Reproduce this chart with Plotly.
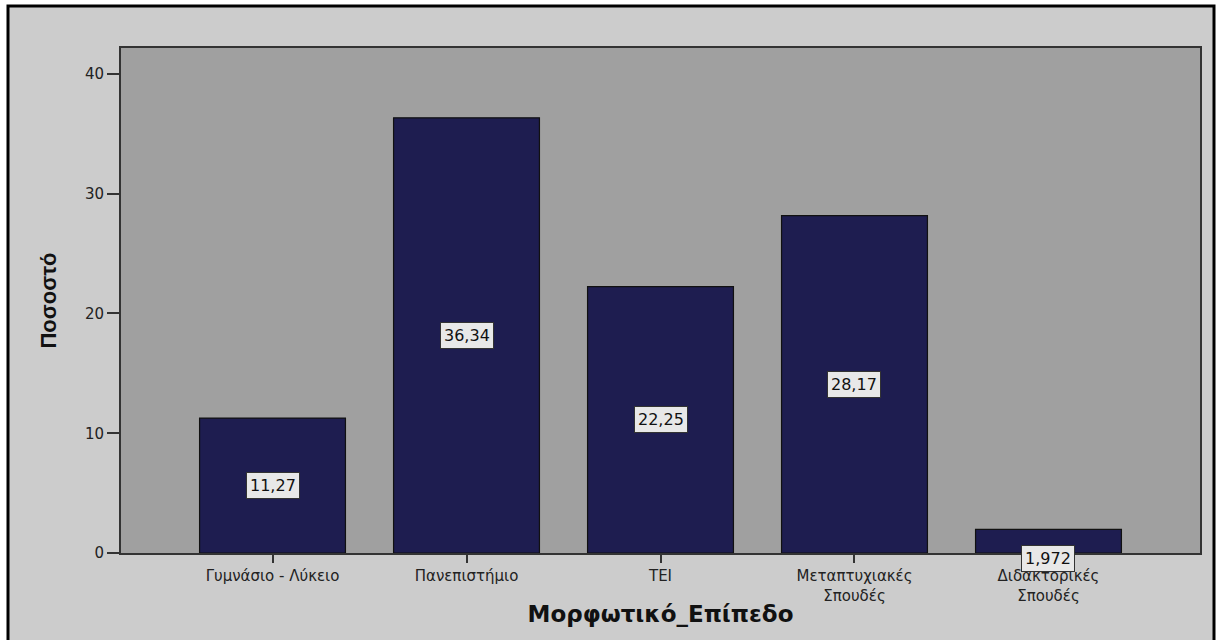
import plotly.graph_objects as go

categories = ["Γυμνάσιο - Λύκειο", "Πανεπιστήμιο", "ΤΕΙ", "Μεταπτυχιακές<br>Σπουδές", "Διδακτορικές<br>Σπουδές"]
values = [11.27, 36.34, 22.25, 28.17, 1.972]
value_labels = ["11,27", "36,34", "22,25", "28,17", "1,972"]
y_ticks = [0, 10, 20, 30, 40]

W, H = 1216, 640
ml, mr, mt, mb = 121, 16, 48, 87

fig = go.Figure()
fig.add_trace(go.Bar(
    x=list(range(len(categories))), y=values,
    width=0.752,
    marker=dict(color="#1e1d50", line=dict(color="#111111", width=1.2)),
    hoverinfo="skip",
))

for i, (v, lab) in enumerate(zip(values, value_labels)):
    fig.add_annotation(
        x=i, y=v / 2, xref="x", yref="y", text=lab, showarrow=False,
        font=dict(family="DejaVu Sans", size=16, color="#111111"),
        bgcolor="#e8e8e8", bordercolor="#333333", borderwidth=1, borderpad=3,
        yshift=-17 if v < 5 else 0,
    )

# outer light-grey panel with black frame
pw, ph = W - ml - mr, H - mt - mb
def px(xp):
    return (xp - ml) / pw
def py(yp):
    return (H - mb - yp) / ph

fig.add_shape(type="rect", xref="paper", yref="paper",
              x0=px(8), x1=px(1214), y0=py(6), y1=py(645),
              fillcolor="#cccccc", line=dict(color="#000000", width=3), layer="below")
fig.add_shape(type="rect", xref="x domain", yref="y domain",
              x0=0, x1=1, y0=0, y1=1,
              fillcolor="#a0a0a0", line=dict(width=0), layer="below")

fig.update_layout(
    width=W, height=H,
    margin=dict(l=ml, r=mr, t=mt, b=mb, pad=0),
    paper_bgcolor="#ffffff", plot_bgcolor="#a0a0a0",
    showlegend=False, bargap=0.25,
    font=dict(family="DejaVu Sans", color="#222222"),
)
fig.update_xaxes(
    range=[-0.781, 4.781], tickmode="array", tickvals=list(range(len(categories))),
    ticktext=categories, ticks="outside", ticklen=8, tickwidth=2, tickcolor="#333333",
    tickfont=dict(family="DejaVu Sans", size=15, color="#222222"),
    showline=True, linecolor="#333333", linewidth=2, mirror=True, showgrid=False, zeroline=False,
    title=dict(text="<b>Μορφωτικό_Επίπεδο</b>", font=dict(family="DejaVu Sans", size=23, color="#111111"), standoff=2),
)
fig.update_yaxes(
    range=[0, 42.17], tickvals=y_ticks, ticktext=[str(t) for t in y_ticks],
    ticks="outside", ticklen=12, tickwidth=2, tickcolor="#333333",
    tickfont=dict(family="DejaVu Sans", size=15, color="#222222"),
    showline=True, linecolor="#333333", linewidth=2, mirror=True, showgrid=False, zeroline=False,
    title=dict(text="<b>Ποσοστό</b>", font=dict(family="Liberation Sans Narrow, Arial Narrow, Liberation Sans, sans-serif", size=22, color="#111111"), standoff=22),
)

fig.write_html("out.html")
